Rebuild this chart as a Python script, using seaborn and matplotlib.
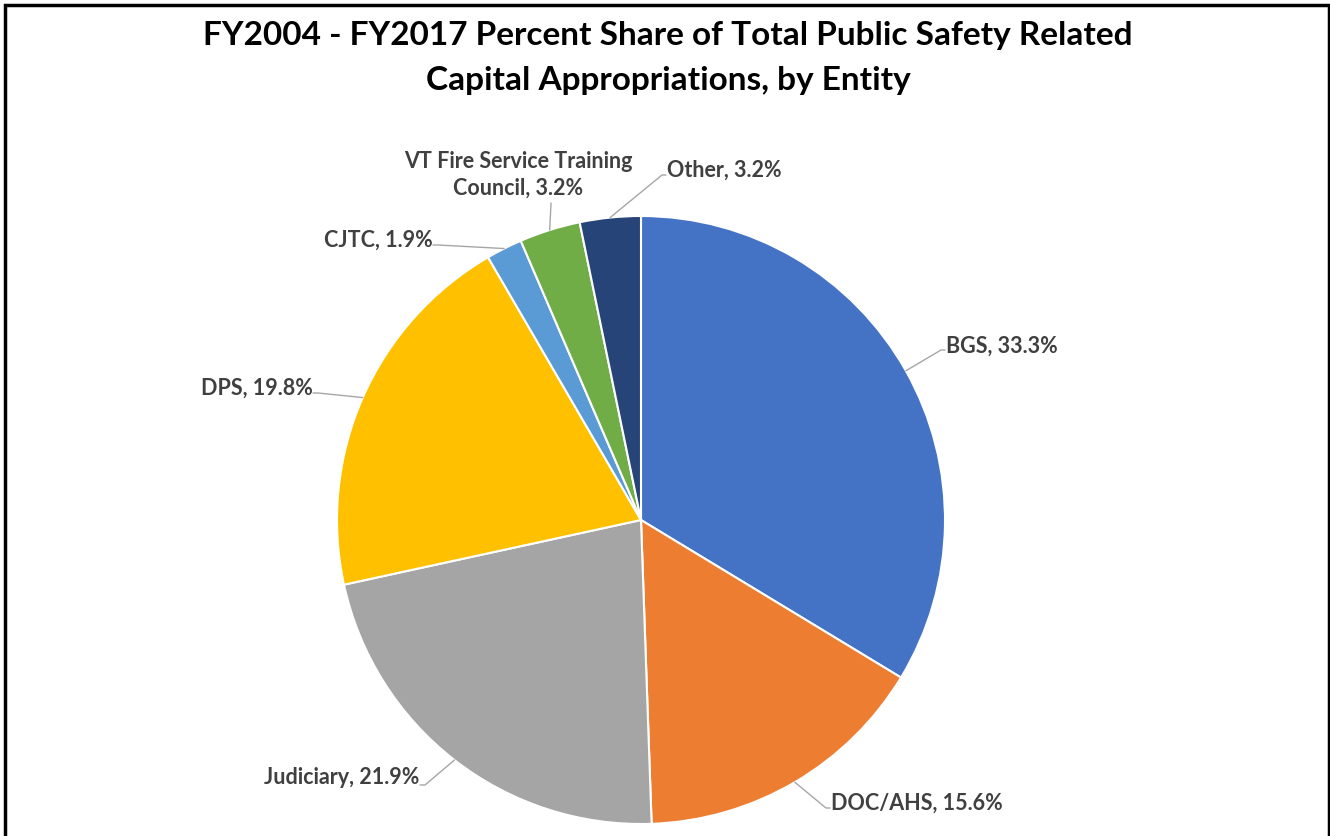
import matplotlib
matplotlib.use('Agg')
import matplotlib.pyplot as plt
from matplotlib.patches import Rectangle
import numpy as np
import seaborn as sns

# data
entities = ['BGS', 'DOC/AHS', 'Judiciary', 'DPS', 'CJTC',
            'VT Fire Service Training\nCouncil', 'Other']
shares = [33.3, 15.6, 21.9, 19.8, 1.9, 3.2, 3.2]
colors = ['#4472C4', '#ED7D31', '#A5A5A5', '#FFC000', '#5B9BD5', '#70AD47', '#264478']
title = 'FY2004 - FY2017 Percent Share of Total Public Safety Related\nCapital Appropriations, by Entity'

# label layout in pixels: text x, text y, alignment, knee x, knee y, end x
label_layout = [
    (946, 346, 'left', 941, 350, 945),
    (831, 803, 'left', 826, 808, 830),
    (419, 777, 'right', 425, 785, 420),
    (313, 388, 'right', 318, 393, 313),
    (433, 240, 'right', 438, 245, 433),
    (518, 175, 'center', 551, 203, 551),
    (667, 170, 'left', 662, 175, 666),
]

sns.set_theme(style='white')
plt.rcParams['font.family'] = ['Lato', 'DejaVu Sans']

W, H = 1330, 836
cx, cy, R = 641, 520, 304
fig = plt.figure(figsize=(W / 100, H / 100), dpi=100)
ax = fig.add_axes([(cx - R) / W, (H - cy - R) / H, 2 * R / W, 2 * R / H])

wedges, _ = ax.pie(shares, colors=colors, startangle=90, counterclock=False,
                   radius=1, wedgeprops=dict(edgecolor='white', linewidth=1.5))
ax.set_xlim(-1, 1)
ax.set_ylim(-1, 1)
ax.axis('off')


def px(x, y):
    return (x - cx) / R, (cy - y) / R


for w, name, share, lay in zip(wedges, entities, shares, label_layout):
    tx, ty, ha, kx, ky, ex = lay
    mid = np.deg2rad((w.theta1 + w.theta2) / 2)
    sx, sy = np.cos(mid), np.sin(mid)
    k = px(kx, ky)
    e = px(ex, ky)
    ax.plot([sx, k[0], e[0]], [sy, k[1], e[1]], color='#A6A6A6', lw=1, clip_on=False)
    t = px(tx, ty)
    ax.text(t[0], t[1], f'{name}, {share:.1f}%', ha=ha, va='center', fontsize=15.5,
            fontweight='bold', color='#404040', linespacing=1.35)

fig.text(668 / W, 1 - 58 / H, title, ha='center', va='center', fontsize=24,
         fontweight='bold', color='black', linespacing=1.7)

fig.patches.append(Rectangle((5 / W, -0.05), 1324 / W, 1.05 - 5 / H, transform=fig.transFigure,
                             fill=False, edgecolor='black', lw=2.5))

fig.savefig('out.png', dpi=100)
